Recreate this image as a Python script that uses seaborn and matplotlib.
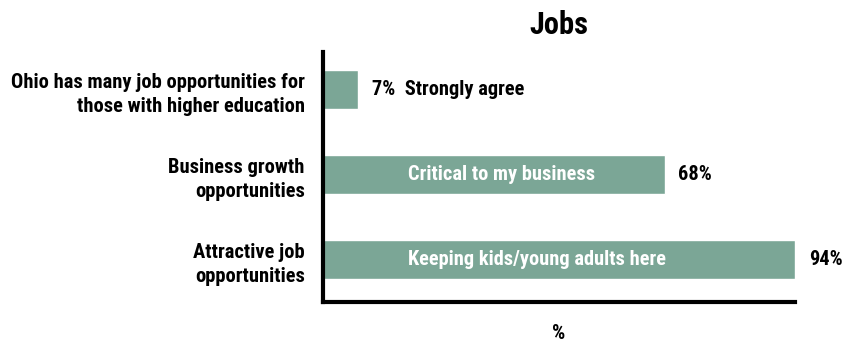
import matplotlib
matplotlib.use("Agg")
import matplotlib.pyplot as plt
import seaborn as sns
import pandas as pd

categories = [
    "Ohio has many job opportunities for\nthose with higher education",
    "Business growth\nopportunities",
    "Attractive job\nopportunities",
]
values = [7, 68, 94]
inner_labels = ["", "Critical to my business", "Keeping kids/young adults here"]
outer_labels = ["7%  Strongly agree", "68%", "94%"]

sns.set_theme(style="white")
plt.rcParams["font.family"] = ["Roboto Condensed", "Liberation Sans Narrow",
                               "Liberation Sans", "DejaVu Sans"]
plt.rcParams["font.weight"] = "bold"
plt.rcParams["text.color"] = "black"
plt.rcParams["axes.labelcolor"] = "black"
plt.rcParams["ytick.color"] = "black"

bar_color = "#7ba696"

df = pd.DataFrame({"category": categories, "value": values})

fig = plt.figure(figsize=(8.61, 3.43), dpi=100)
ax = fig.add_axes([0.375, 0.1195, 0.5485, 0.7285])

sns.barplot(data=df, y="category", x="value", orient="h", color=bar_color,
            saturation=1, width=0.45, ax=ax)

ax.set_xlim(0, max(values))
ax.set_ylim(2.5, -0.44)

for i, (v, inner, outer) in enumerate(zip(values, inner_labels, outer_labels)):
    ax.text(v + 2.7, i, outer, va="center", ha="left", fontsize=14.7,
            fontweight="bold", color="black")
    if inner:
        ax.text(17, i, inner, va="center", ha="left", fontsize=14.7,
                fontweight="bold", color="white")

ax.set_xticks([])
ax.tick_params(axis="y", length=0, pad=13, labelsize=14.8)
for lbl in ax.get_yticklabels():
    lbl.set_fontweight("bold")
    lbl.set_horizontalalignment("right")
    lbl.set_linespacing(1.35)

ax.set_ylabel("")
ax.set_xlabel("%", fontsize=15, fontweight="bold", labelpad=16)
ax.set_title("Jobs", fontsize=22, fontweight="bold", pad=13, color="black")

for side in ["top", "right"]:
    ax.spines[side].set_visible(False)
for side in ["left", "bottom"]:
    ax.spines[side].set_linewidth(3)
    ax.spines[side].set_color("black")

fig.savefig("out.png", dpi=100)
